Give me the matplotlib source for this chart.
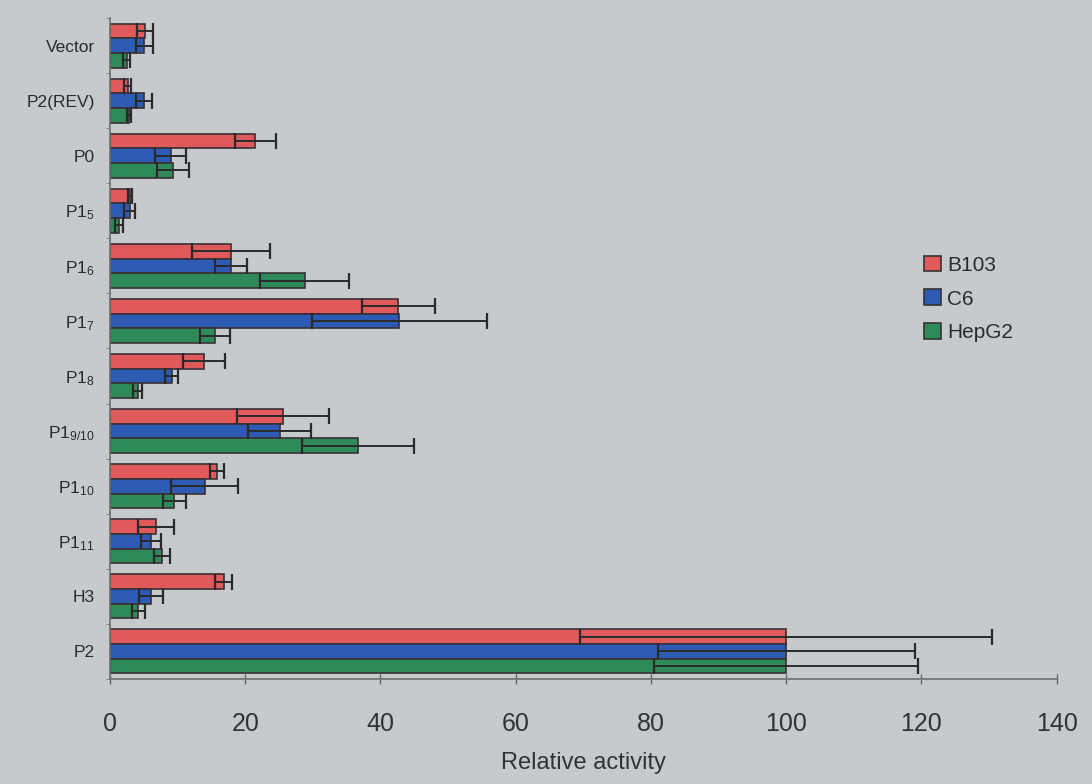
import numpy as np
import matplotlib
matplotlib.use("Agg")
import matplotlib.pyplot as plt
from matplotlib.ticker import FixedLocator

plt.rcParams['font.family'] = ['Liberation Sans', 'DejaVu Sans']
plt.rcParams['mathtext.default'] = 'regular'

constructs = ['Vector', 'P2(REV)', 'P0', 'P1$_{5}$', 'P1$_{6}$', 'P1$_{7}$', 'P1$_{8}$',
              'P1$_{9/10}$', 'P1$_{10}$', 'P1$_{11}$', 'H3', 'P2']
cells = ['B103', 'C6', 'HepG2']

b103 = [5.2, 2.6, 21.5, 2.9, 17.9, 42.6, 13.9, 25.6, 15.8, 6.8, 16.8, 100]
b103_err = [1.2, 0.5, 3.0, 0.3, 5.7, 5.4, 3.1, 6.8, 1.0, 2.6, 1.2, 30.5]
c6 = [5.1, 5.0, 9.0, 2.9, 17.9, 42.8, 9.1, 25.1, 14.0, 6.1, 6.1, 100]
c6_err = [1.2, 1.2, 2.3, 0.8, 2.4, 12.9, 1.0, 4.7, 5.0, 1.5, 1.8, 19.0]
hepg2 = [2.5, 2.8, 9.3, 1.4, 28.8, 15.5, 4.1, 36.7, 9.5, 7.7, 4.2, 100]
hepg2_err = [0.5, 0.3, 2.4, 0.6, 6.6, 2.2, 0.7, 8.3, 1.7, 1.2, 1.0, 19.5]

colors = ['#e0595b', '#2d5bb4', '#2f8a5a']
bg = '#c6cacd'

fig = plt.figure(figsize=(10.92, 7.84), dpi=100, facecolor=bg)
ax = fig.add_axes([0.1007, 0.134, 0.867, 0.843], facecolor=bg)

y = np.arange(len(constructs))
h = 0.8 / 3
for i, (vals, errs) in enumerate([(b103, b103_err), (c6, c6_err), (hepg2, hepg2_err)]):
    pos = y - h + i * h
    ax.barh(pos, vals, height=h, color=colors[i], edgecolor='#3a3034',
            linewidth=1.2, label=cells[i])
    ax.errorbar(vals, pos, xerr=errs, fmt='none', ecolor='#2a2a2a',
                elinewidth=1.4, capsize=6, capthick=1.6)

ax.set_xlim(0, 140)
ax.set_ylim(len(constructs) - 0.5, -0.5)
ax.set_xticks(np.arange(0, 141, 20))
ax.set_yticks(y)
ax.set_yticklabels(constructs, fontsize=12.5, color='#2b2b2b')
ax.yaxis.set_minor_locator(FixedLocator(np.arange(-0.5, len(constructs), 1)))
ax.tick_params(axis='y', which='major', length=0, pad=11)
ax.tick_params(axis='y', which='minor', length=3, color='#777777', direction='out')
ax.tick_params(axis='x', length=7, width=1, color='#666666', direction='inout', pad=20)
for lab in ax.get_xticklabels():
    lab.set_fontsize(18)
    lab.set_color('#333333')
ax.set_xlabel('Relative activity', fontsize=17, color='#333333', labelpad=12)

for side in ['top', 'right']:
    ax.spines[side].set_visible(False)
for side in ['left', 'bottom']:
    ax.spines[side].set_color('#6f6f6f')
    ax.spines[side].set_linewidth(1.2)

leg = ax.legend(loc='center left', bbox_to_anchor=(0.84, 0.575), frameon=False,
                fontsize=15, handlelength=0.8, handleheight=0.8, handletextpad=0.3,
                labelspacing=0.7)
for t in leg.get_texts():
    t.set_color('#2b2b2b')
for p in leg.get_patches():
    p.set_edgecolor('#333333')

fig.savefig('out.png', dpi=100, facecolor=bg)
